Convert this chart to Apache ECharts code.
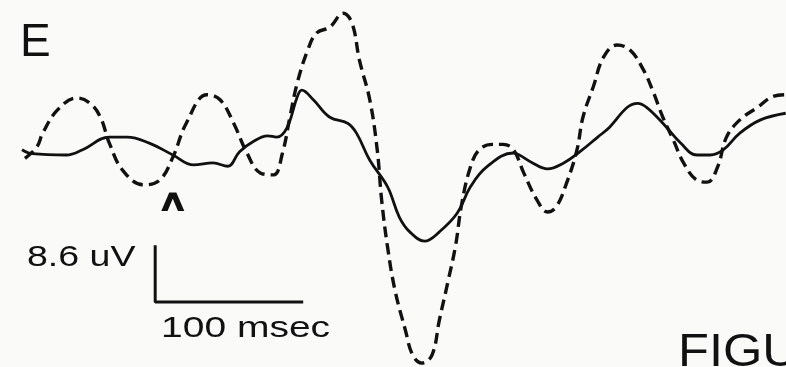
<!DOCTYPE html>
<html>
<head>
<meta charset="utf-8">
<script src="https://cdn.jsdelivr.net/npm/echarts@6/dist/echarts.min.js"></script>
<style>
html,body{margin:0;padding:0;background:#fafaf8;}
#chart{width:786px;height:367px;}
</style>
</head>
<body>
<div id="chart"></div>
<script>
// time in msec, amplitude in uV
const solidTrace = [
  [0,0.8],[7,0.2],[30,0],[41,0.8],[59,2.7],[71,2.7],[86,1.8],[102,0],[116,-1.5],[129,-1.2],
  [139,-1.7],[147,0.5],[156,2.0],[166,2.9],[172,2.7],[179,4.1],[186,8.8],[189,9.8],[197,8.3],
  [208,5.7],[220,4.8],[226,3.3],[235,-0.8],[247,-4.8],[255,-9.4],[262,-11.6],[272,-13.0],
  [282,-11.6],[294,-8.8],[303,-4.8],[314,-1.8],[332,0.3],[336,0],[345,-1.2],[355,-2.1],
  [366,-1.2],[377,0.5],[389,2.7],[397,4.2],[409,7.2],[416,7.8],[422,7.2],[433,4.8],[445,1.8],
  [456,0],[465,0],[474,0.8],[485,3.3],[499,5.3],[516,6.3]
];
const dashedTrace = [
  [2,-0.5],[10,1.2],[14,3.3],[24,6.8],[37,8.6],[46,7.8],[53,5.7],[59,1.8],[68,-2.3],[82,-4.5],
  [93,-3.8],[102,-0.3],[111,4.8],[125,9.1],[134,8.3],[143,4.8],[152,0.3],[161,-2.7],[170,-3.0],
  [176,0.3],[181,5.7],[186,10.9],[193,15.8],[199,18.4],[208,19.3],[217,21.4],[223,19.9],
  [228,14.3],[235,8.3],[240,0.8],[243,-6.8],[247,-13.9],[252,-20.4],[259,-26.4],[264,-30.2],
  [270,-31.4],[277,-30.2],[282,-24.9],[288,-18.9],[293,-13.6],[297,-7.5],[303,-1.8],[309,0.8],
  [318,1.6],[325,1.6],[332,0.8],[339,-2.7],[348,-6.8],[355,-8.6],[361,-7.8],[368,-4.2],
  [375,0.8],[379,5.7],[386,10.3],[393,14.8],[402,16.6],[411,15.8],[420,12.8],[426,9.8],
  [433,5.7],[440,2.3],[447,-1.2],[456,-3.8],[463,-4.1],[470,-1.8],[476,2.7],[485,5.3],
  [497,7.2],[507,8.8],[516,9.1]
];
// calibration bar: 100 msec by 8.6 uV
const scaleTime = 100;
const scaleAmp = 8.6;
const scaleOrigin = [90, -13.6];
const scaleBar = [
  [scaleOrigin[0], scaleOrigin[1]],
  [scaleOrigin[0], scaleOrigin[1] - scaleAmp],
  [scaleOrigin[0] + scaleTime, scaleOrigin[1] - scaleAmp]
];
const labels = { panel: 'E', amp: '8.6 uV', time: '100 msec', fig: 'FIGU', marker: '^' };

const chart = echarts.init(document.getElementById('chart'), null, {renderer: 'canvas'});
const font = 'Liberation Sans, Arial, sans-serif';
chart.setOption({
  backgroundColor: '#fafaf8',
  animation: false,
  grid: {left: 0, right: 0, top: 0, bottom: 0},
  xAxis: {type: 'value', min: -14.86, max: 516.2, show: false},
  yAxis: {type: 'value', min: -31.99, max: 23.39, show: false},
  series: [
    {type: 'line', data: solidTrace, smooth: 0.4, showSymbol: false,
     lineStyle: {color: '#111', width: 2.8}},
    {type: 'line', data: dashedTrace, smooth: 0.4, showSymbol: false,
     lineStyle: {color: '#111', width: 3.4, type: [11, 6]}},
    {type: 'line', data: scaleBar, showSymbol: false,
     lineStyle: {color: '#111', width: 3}}
  ],
  graphic: [
    {type: 'text', left: 20, top: 20, style: {text: labels.panel, font: '46px ' + font, fill: '#111'}},
    {type: 'text', left: 27, top: 243, scaleX: 1.25, style: {text: labels.amp, font: '30px ' + font, fill: '#111'}},
    {type: 'text', left: 161, top: 314, scaleX: 1.3, style: {text: labels.time, font: '30px ' + font, fill: '#111'}},
    {type: 'text', left: 678, top: 330, scaleX: 1.1, style: {text: labels.fig, font: '46px ' + font, fill: '#111'}},
    {type: 'text', left: 161, top: 189, style: {text: labels.marker, font: 'bold 37px ' + font, fill: '#111', stroke: '#111', lineWidth: 2}}
  ]
});
</script>
</body>
</html>
